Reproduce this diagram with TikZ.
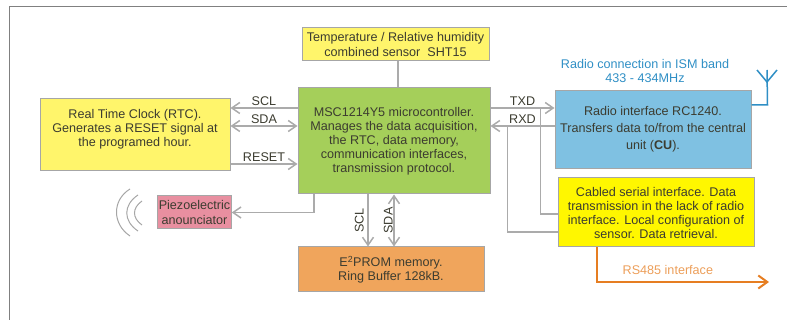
\documentclass[tikz,border=0pt]{standalone}
\usepackage{fontspec}
\setmainfont{Liberation Sans}
\usepackage{xcolor}
\usepackage{tikz}
\usetikzlibrary{positioning, arrows.meta}
\definecolor{paleyellow}{HTML}{FFF56B}
\definecolor{brightyellow}{HTML}{FFF700}
\definecolor{leafgreen}{HTML}{A5CF5A}
\definecolor{skyblue}{HTML}{7FC1E2}
\definecolor{rosepink}{HTML}{E88FA0}
\definecolor{peach}{HTML}{F0A55C}
\definecolor{wiregray}{HTML}{ABABAB}
\definecolor{inkgray}{HTML}{3C3C30}
\definecolor{radioblue}{HTML}{2F8FC5}
\definecolor{cableorange}{HTML}{E67E22}
\tikzset{
	>={Straight Barb[length=8pt,width=11pt]}, % open arrow heads
	node distance=50pt, % centre to centre, because of on grid
	every node/.style={font=\fontsize{12.6}{14}\selectfont, text=inkgray},
	block/.style={draw=gray!70, line width=1pt, align=center, inner sep=1pt},
	wire/.style={draw=wiregray, line width=1.5pt},
	tag/.style={inner sep=1.5pt},
}

\begin{document}
\begin{tikzpicture}[x=1pt, y=-1pt, on grid]
	\useasboundingbox (0,0) rectangle (787,320);
	\draw[gray, line width=1pt] (9.5,320) -- (9.5,6.5) -- (787,6.5);

	% Define blocks
	\node[block, fill=leafgreen, minimum width=192pt, minimum height=106pt] (mcu) at (394,141) {MSC1214Y5 microcontroller.\\Manages the data acquisition,\\the RTC, data memory,\\communication interfaces,\\transmission protocol.};
	\node[block, fill=paleyellow, minimum width=187pt, minimum height=33pt, above right=96.5pt and 1.5pt of mcu] (sensor) {Temperature / Relative humidity\\combined sensor\ \ SHT15};
	\node[block, fill=paleyellow, minimum width=190pt, minimum height=72pt, above left=6pt and 259pt of mcu] (rtc) {Real Time Clock (RTC).\\Generates a RESET signal at\\the programed hour.\\\mbox{}};
	\node[block, fill=rosepink, minimum width=73pt, minimum height=33pt, below left=71.5pt and 199.5pt of mcu] (piezo) {Piezoelectric\\[1pt]anounciator};
	\node[block, fill=peach, minimum width=186pt, minimum height=45pt, below left=128.5pt and 3pt of mcu] (eeprom) {E\textsuperscript{2}PROM memory.\\Ring Buffer 128kB.};
	\node[block, fill=skyblue, minimum width=196pt, minimum height=78pt, above right=11pt and 259pt of mcu] (radio) {Radio interface RC1240.\\[3pt]Transfers data to/from the central\\[3pt]unit (\textbf{CU}).\\[-10pt]\mbox{}};
	\node[block, fill=brightyellow, minimum width=196pt, minimum height=69pt, below right=82.5pt and 3pt of radio] (cabled) {Cabled serial interface. Data\\transmission in the lack of radio\\interface. Local configuration of\\sensor. Data retrieval.};
	\node[text=radioblue, align=center, above left=59pt and 8pt of radio] (band) {Radio connection in ISM band\\433 - 434MHz};

	% Attachment points
	\coordinate (sensorlink) at ([xshift=2.5pt]sensor.south);
	\coordinate (scl) at ([yshift=33pt]mcu.west);
	\coordinate (sda) at ([yshift=15pt]mcu.west);
	\coordinate (reset) at ([yshift=-23pt]mcu.west);
	\coordinate (buzz) at ([xshift=-80pt]mcu.south);
	\coordinate (memscl) at ([xshift=-26pt]mcu.south);
	\coordinate (memsda) at ([xshift=0pt]mcu.south);
	\coordinate (txd) at ([yshift=33pt]mcu.east);
	\coordinate (rxd) at ([yshift=15pt]mcu.east);
	\coordinate (txdtap) at ([xshift=50pt]txd);
	\coordinate (rxdtap) at ([xshift=17pt]rxd);
	\coordinate (txdend) at ([yshift=-1.5pt]cabled.west);
	\coordinate (rxdend) at ([yshift=-19.5pt]cabled.west);
	\coordinate (busout) at ([xshift=-59pt]cabled.south);
	\coordinate (busend) at (769,282);
	\coordinate (mast) at ([yshift=25pt]radio.east);
	\coordinate (mastbase) at ([xshift=16pt]mast);
	\coordinate (masttop) at (767,70);
	\coordinate (mastfork) at (767,82);
	\coordinate (forkleft) at (757,70);
	\coordinate (forkright) at (777,70);

	% Connections
	\path[wire]
	(sensorlink) edge (sensorlink |- mcu.north)
	(scl) edge[->] node[above, tag] {SCL} (scl -| rtc.east)
	(sda -| rtc.east) edge[<->] node[above, tag] {SDA} (sda)
	(reset -| rtc.east) edge[->] node[above, tag] {RESET} (reset)
	(memscl) edge[->] node[left, tag, rotate=90, anchor=south, yshift=2pt] {SCL} (memscl |- eeprom.north)
	(memsda) edge[<->] node[left, tag, rotate=90, anchor=south, yshift=-1pt] {SDA} (memsda |- eeprom.north)
	(txd) edge[->] node[above, tag] {TXD} (txd -| radio.west)
	(rxd -| radio.west) edge[->] node[above, tag] {RXD} (rxd);
	\draw[wire, ->] (buzz) |- (piezo.east);
	\draw[wire] (txdtap) |- (txdend);
	\draw[wire] (rxdtap) |- (rxdend);

	\draw[cableorange, line width=2pt, -{Straight Barb[length=9pt,width=13pt]}] (busout) |- (busend) node[pos=0.706, above=3pt, text=cableorange!75] (rsbus) {RS485 interface};

	% Antenna
	\draw[radioblue, line width=1.5pt] (mast) -- (mastbase) -- (masttop);
	\draw[radioblue, line width=1.5pt] (forkleft) -- (mastfork) -- (forkright);

	% Sound waves
	\draw[gray!70, line width=1pt] (130,189) .. controls (112,200) and (112,224) .. (130,236);
	\draw[gray!70, line width=1pt] (138,195) .. controls (123,205) and (123,221) .. (138,231);
	\draw[gray!70, line width=1pt] (142,201) .. controls (132,208) and (132,218) .. (142,225);
\end{tikzpicture}
\end{document}
